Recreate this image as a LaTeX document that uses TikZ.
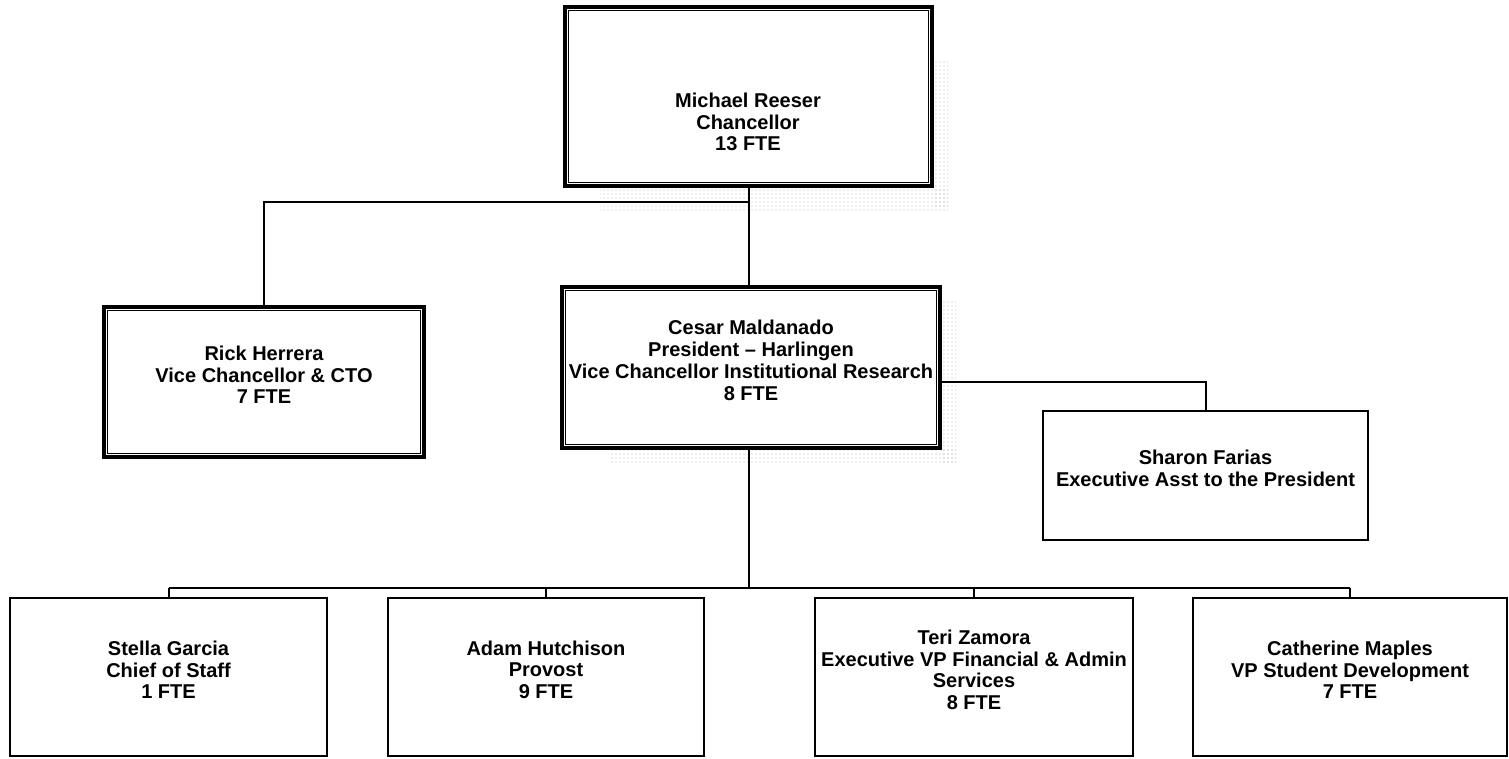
\documentclass[tikz,border=0pt]{standalone}
\usepackage{fontspec}
\setmainfont{Liberation Sans}
\usetikzlibrary{fit,patterns}
\begin{document}
\begin{tikzpicture}[x=0.75pt,y=-0.75pt,
  lbl/.style={align=center,font=\bfseries\fontsize{15}{16.3}\selectfont},
  box/.style={lbl,draw,line width=1.8pt,inner sep=0pt},
  dbox/.style={box,line width=2.3pt},
  inner/.style={line width=1.1pt},
  conn/.style={line width=1.5pt},
  speck/.style={pattern=dots,pattern color=gray!55}]
\useasboundingbox (0,0) rectangle (1509,758);
% scanner speckle shadows
\fill[speck] (933,60) rectangle (948,208);
\fill[speck] (600,187) rectangle (948,210);
\fill[speck] (941,300) rectangle (956,464);
\fill[speck] (610,449) rectangle (956,464);
% boxes
\node[dbox,fill=white,fit={(565,7) (932,186)}] (ch) {};
\node[lbl] (cht) at (748,122) {Michael Reeser\\Chancellor\\13 FTE};
\node[dbox,fill=white,fit={(104,307) (424,457)}] (rh) {Rick Herrera\\Vice Chancellor \& CTO\\7 FTE};
\node[dbox,fill=white,fit={(562,287) (940,448)}] (cm) {Cesar Maldanado\\President -- Harlingen\\Vice Chancellor Institutional Research\\8 FTE};
\node[box,fit={(1043,411) (1368,540)}] (sf) {Sharon Farias\\Executive Asst to the President};
\node[box,fit={(10,598) (327,756)}] (sg) {Stella Garcia\\Chief of Staff\\1 FTE};
\node[box,fit={(388,598) (704,756)}] (ah) {Adam Hutchison\\Provost\\9 FTE};
\node[box,fit={(815,598) (1133,756)}] (tz) {Teri Zamora\\Executive VP Financial \& Admin\\Services\\8 FTE};
\node[box,fit={(1193,598) (1507,756)}] (cmp) {Catherine Maples\\VP Student Development\\7 FTE};
% inner lines of double boxes
\foreach \b in {ch,rh,cm}{
  \draw[inner] ([shift={(5,5)}]\b.north west) rectangle ([shift={(-5,-5)}]\b.south east);
}
% connectors
\coordinate (j1) at (748,202);
\coordinate (j2) at (1205,382);
\coordinate (j3) at (748,588);
\draw[conn] (ch.south) -- (ch.south |- cm.north);
\draw[conn] (ch.south |- j1) -| (rh.north);
\draw[conn] (cm.east |- j2) -| (sf.north);
\draw[conn] (ch.south |- cm.south) -- (ch.south |- j3);
\draw[conn] (sg.north |- j3) -- (cmp.north |- j3);
\foreach \b in {sg,ah,tz,cmp}{
  \draw[conn] (\b.north |- j3) -- (\b.north);
}
\end{tikzpicture}
\end{document}
